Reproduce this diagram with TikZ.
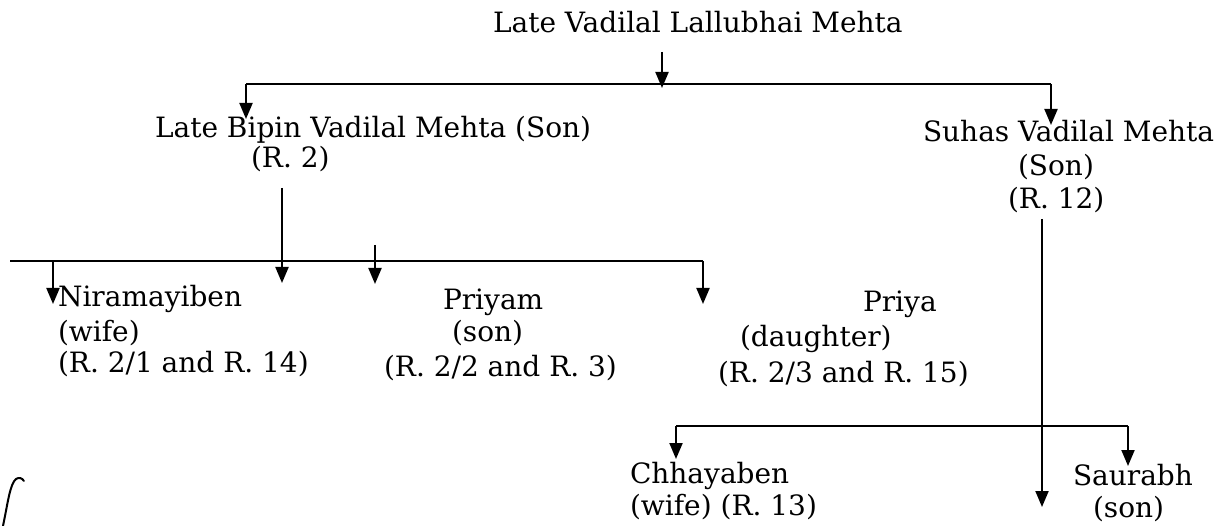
\documentclass[tikz,border=0pt]{standalone}
\usepackage{fontspec}
\setmainfont{DejaVu Serif}
\usetikzlibrary{arrows.meta}
\tikzset{
  lbl/.style={inner sep=0pt, outer sep=0pt, anchor=base west, font=\fontsize{28}{32}\selectfont},
  conn/.style={draw=black, line width=2pt},
  arr/.style={conn, -{Triangle[width=13pt,length=16pt]}},
}
\begin{document}
\begin{tikzpicture}[x=1pt,y=-1pt]
\useasboundingbox (0,0) rectangle (1231,526);
% texts
\node[lbl] (top) at (493,33) {Late Vadilal Lallubhai Mehta};
\node[lbl] (bipin) at (155,138) {Late Bipin Vadilal Mehta (Son)};
\node[lbl] (bipinr) at (251,168) {(R. 2)};
\node[lbl] (suhas) at (923,142) {Suhas Vadilal Mehta};
\node[lbl] (suhass) at (1018,176) {(Son)};
\node[lbl] (suhasr) at (1008,209) {(R. 12)};
\node[lbl] (nira) at (58,307) {Niramayiben};
\node[lbl] (nira2) at (58,342) {(wife)};
\node[lbl] (nira3) at (58,373) {(R. 2/1 and R. 14)};
\node[lbl] (priyam) at (443,310) {Priyam};
\node[lbl] (priyam2) at (452,342) {(son)};
\node[lbl] (priyam3) at (384,377) {(R. 2/2 and R. 3)};
\node[lbl] (priya) at (863,312) {Priya};
\node[lbl] (priya2) at (740,347) {(daughter)};
\node[lbl] (priya3) at (718,382) {(R. 2/3 and R. 15)};
\node[lbl] (chhaya) at (630,483) {Chhayaben};
\node[lbl] (chhaya2) at (630,515) {(wife) (R. 13)};
\node[lbl] (saurabh) at (1073,485) {Saurabh};
\node[lbl] (saurabh2) at (1093,517) {(son)};
% junction coordinates
\coordinate (t0) at (662,52);
\coordinate (t1) at (662,88);
\coordinate (b1l) at (246,84);
\coordinate (b1r) at (1051,84);
\coordinate (bipinTip) at (246,119);
\coordinate (suhasTip) at (1051,125);
\coordinate (bv0) at (282,188);
\coordinate (bv1) at (282,283);
\coordinate (b2l) at (10,261);
\coordinate (b2r) at (703,261);
\coordinate (n0) at (53,261);
\coordinate (nTip) at (53,304);
\coordinate (p0) at (375,245);
\coordinate (pTip) at (375,284);
\coordinate (prTip) at (703,304);
\coordinate (sv0) at (1042,219);
\coordinate (sv1) at (1042,507);
\coordinate (b3l) at (676,426);
\coordinate (b3r) at (1128,426);
\coordinate (cTip) at (676,459);
\coordinate (sTip) at (1128,466);
% connectors
\draw[arr] (t0) -- (t1);
\draw[conn] (b1l) -- (b1r);
\draw[arr] (b1l) -- (bipinTip);
\draw[arr] (b1r) -- (suhasTip);
\draw[arr] (bv0) -- (bv1);
\draw[conn] (b2l) -- (b2r);
\draw[arr] (n0) -- (nTip);
\draw[arr] (p0) -- (pTip);
\draw[arr] (b2r) -- (prTip);
\draw[arr] (sv0) -- (sv1);
\draw[conn] (b3l) -- (b3r);
\draw[arr] (b3l) -- (cTip);
\draw[arr] (b3r) -- (sTip);
% stray pen mark
\draw[line width=2pt, line cap=round] (3,526) .. controls (8,502) and (10,484) .. (16,479) .. controls (19,477) and (22,478) .. (24,481);
\end{tikzpicture}
\end{document}
